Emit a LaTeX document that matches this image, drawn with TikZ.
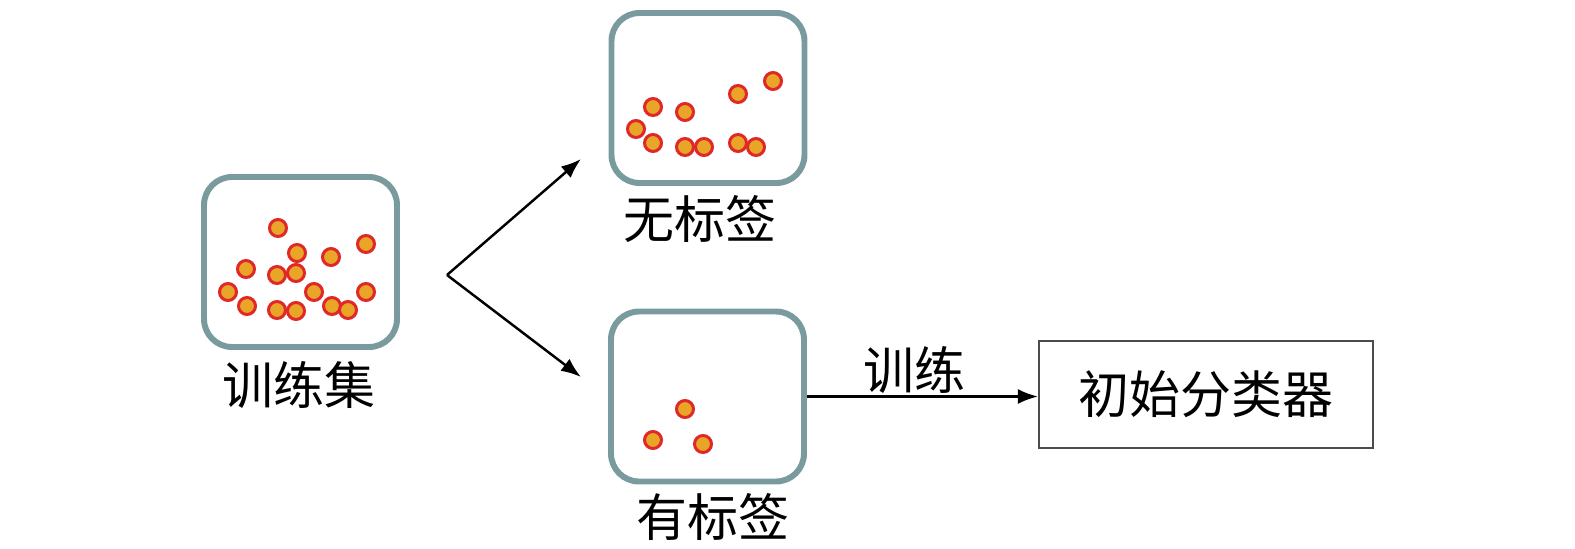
\documentclass[tikz,border=0pt]{standalone}
\usepackage{fontspec}
\newfontfamily\cjk{Noto Sans CJK SC}
\usepackage{tikz}
\usetikzlibrary{arrows.meta,positioning}
\definecolor{boxgray}{RGB}{122,155,158}
\definecolor{dotfill}{RGB}{232,165,40}
\definecolor{dotline}{RGB}{225,40,40}
\tikzset{
setbox/.style={draw=boxgray, line width=1.7pt, rounded corners=0.28cm, minimum width=1.93cm, minimum height=1.70cm},
clfbox/.style={draw=black!70, line width=0.6pt, minimum width=3.34cm, minimum height=1.07cm, font=\cjk\fontsize{14.5}{17}\selectfont},
tag/.style={font=\cjk\fontsize{14.5}{17}\selectfont, inner sep=0pt},
dot/.style={draw=dotline, fill=dotfill, line width=0.85pt},
flow/.style={-{Latex[length=2mm,width=1.5mm]}, line width=0.7pt}
}

\begin{document}
\begin{tikzpicture}
    \useasboundingbox (0,0) rectangle (15.75,-5.48);

    % the three sets
    \node[setbox] (train) at (3.005,-2.62) {};
    \node[setbox] (unlabeled) at (7.08,-0.98) {};
    \node[setbox] (labeled) at (7.075,-3.965) {};
    \node[clfbox] (clf) at (12.06,-3.945) {初始分类器};

    \node[tag] (trainlbl) at (2.99,-3.85) {训练集};
    \node[tag] (unlabeledlbl) at (7.00,-2.19) {无标签};
    \node[tag] (labeledlbl) at (7.13,-5.17) {有标签};

    % samples
    \foreach \x/\y in {2.78/-2.28, 2.97/-2.53, 3.31/-2.57, 3.66/-2.44, 2.46/-2.69,
      2.77/-2.75, 2.96/-2.73, 2.28/-2.92, 2.47/-3.06, 2.77/-3.10, 2.96/-3.11,
      3.14/-2.92, 3.32/-3.06, 3.48/-3.10, 3.66/-2.92}
      \draw[dot] (\x,\y) circle (0.085);
    \foreach \x/\y in {7.73/-0.81, 7.38/-0.94, 6.53/-1.07, 6.85/-1.12, 6.36/-1.29,
      6.53/-1.43, 6.85/-1.47, 7.04/-1.47, 7.38/-1.43, 7.56/-1.47}
      \draw[dot] (\x,\y) circle (0.085);
    \foreach \x/\y in {6.85/-4.09, 6.53/-4.40, 7.03/-4.44}
      \draw[dot] (\x,\y) circle (0.085);

    % split
    \coordinate (fork) at (4.47,-2.75);
    \coordinate (upend) at (5.81,-1.59);
    \coordinate (downend) at (5.81,-3.77);
    \draw[flow] (fork) -- (upend);
    \draw[flow] (fork) -- (downend);

    \draw[flow] (labeled.east) -- (labeled.east -| clf.west);
    \node[tag] (trainstep) at (9.14,-3.70) {训练};
  \end{tikzpicture}
\end{document}
